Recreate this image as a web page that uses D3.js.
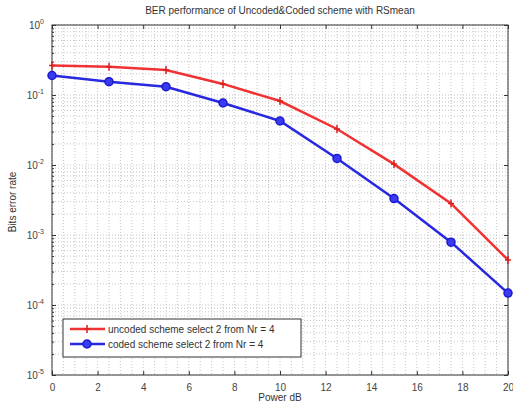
<!DOCTYPE html>
<html>
<head>
<meta charset="utf-8">
<script src="https://cdn.jsdelivr.net/npm/d3@7"></script>
<style>
  body { margin: 0; background: #fff; }
  text { font-family: "Liberation Sans", Arial, sans-serif; fill: #333; }
</style>
</head>
<body>
<script>
// values
const power = [0, 2.5, 5, 7.5, 10, 12.5, 15, 17.5, 20];
const uncoded = [0.264, 0.254, 0.228, 0.144, 0.082, 0.0327, 0.0103, 0.00282, 0.00044];
const coded = [0.19, 0.155, 0.1315, 0.0769, 0.0425, 0.0124, 0.00332, 0.00079, 0.000148];
const xTicks = [0, 2, 4, 6, 8, 10, 12, 14, 16, 18, 20];
const yTicks = [1, 1e-1, 1e-2, 1e-3, 1e-4, 1e-5];
const legendLabels = ['uncoded scheme select 2 from Nr = 4', 'coded scheme select 2 from Nr = 4'];

let width = 513;
let height = 403;
const pLeft = 52, pRight = 508, pTop = 25, pBottom = 375;

const svg = d3.select('body')
    .append('svg')
    .attr('width', width)
    .attr('height', height);

let x = d3.scaleLinear().domain([0, 20]).range([pLeft, pRight]);
let y = d3.scaleLog().domain([1e-5, 1]).range([pBottom, pTop]);

svg.append('rect')
    .attr('x', pLeft).attr('y', pTop)
    .attr('width', pRight - pLeft).attr('height', pBottom - pTop)
    .attr('fill', '#fff');

// grid, dotted like matlab (major + minor)
let g = svg.append('g');
let xMinor = d3.range(0, 20.01, 0.5);
g.selectAll('line.vx')
    .data(xMinor)
    .enter()
    .append('line')
    .attr('x1', d => x(d)).attr('x2', d => x(d))
    .attr('y1', pTop).attr('y2', pBottom)
    .attr('stroke', '#b8b8b8')
    .attr('stroke-width', 0.8)
    .attr('stroke-dasharray', '1,2');

let yMinor = [];
for (let e = -5; e < 0; e++) {
    for (let k = 1; k < 10; k++) yMinor.push(k * Math.pow(10, e));
}
yMinor.push(1);
g.selectAll('line.hy')
    .data(yMinor)
    .enter()
    .append('line')
    .attr('x1', pLeft).attr('x2', pRight)
    .attr('y1', d => y(d)).attr('y2', d => y(d))
    .attr('stroke', '#b8b8b8')
    .attr('stroke-width', 0.8)
    .attr('stroke-dasharray', '1,2');

// axes
svg.append('g')
    .attr('transform', `translate(0,${pBottom})`)
    .call(d3.axisBottom(x).tickValues(xTicks).tickSizeInner(-4).tickSizeOuter(0).tickPadding(9))
    .call(a => a.select('.domain').remove())
    .call(a => a.selectAll('line').attr('stroke', '#333'))
    .call(a => a.selectAll('text').attr('font-size', 10).style('fill', '#444'));

svg.append('g')
    .attr('transform', `translate(0,${pTop})`)
    .call(d3.axisTop(x).tickValues(xTicks).tickSizeInner(-4).tickSizeOuter(0).tickFormat(''))
    .call(a => a.select('.domain').remove())
    .call(a => a.selectAll('line').attr('stroke', '#333'));

svg.append('g')
    .attr('transform', `translate(${pLeft},0)`)
    .call(d3.axisLeft(y).tickValues(yMinor).tickSizeInner(-2).tickSizeOuter(0).tickFormat(''))
    .call(a => a.select('.domain').remove())
    .call(a => a.selectAll('line').attr('stroke', '#333'));

svg.append('g')
    .attr('transform', `translate(${pLeft},0)`)
    .call(d3.axisLeft(y).tickValues(yTicks).tickSizeInner(-4).tickSizeOuter(0).tickFormat(''))
    .call(a => a.select('.domain').remove())
    .call(a => a.selectAll('line').attr('stroke', '#333'));

svg.append('g')
    .attr('transform', `translate(${pRight},0)`)
    .call(d3.axisRight(y).tickValues(yTicks).tickSizeInner(-4).tickSizeOuter(0).tickFormat(''))
    .call(a => a.select('.domain').remove())
    .call(a => a.selectAll('line').attr('stroke', '#333'));

// y tick labels 10^n
let yl = svg.append('g').selectAll('text')
    .data(yTicks)
    .enter()
    .append('text')
    .attr('x', pLeft - 8)
    .attr('y', d => y(d) + 4)
    .attr('text-anchor', 'end')
    .attr('font-size', 10)
    .style('fill', '#444');
yl.append('tspan').text('10');
yl.append('tspan')
    .attr('dy', -5)
    .attr('font-size', 7)
    .text(d => Math.round(Math.log10(d)));

// box
svg.append('rect')
    .attr('x', pLeft).attr('y', pTop)
    .attr('width', pRight - pLeft).attr('height', pBottom - pTop)
    .attr('fill', 'none')
    .attr('stroke', '#333')
    .attr('stroke-width', 1);

// lines
let line = d3.line().x((d, i) => x(power[i])).y(d => y(d));

svg.append('path')
    .datum(uncoded)
    .attr('d', line)
    .attr('fill', 'none')
    .attr('stroke', '#f03232')
    .attr('stroke-width', 2.5);

svg.append('g').selectAll('path')
    .data(uncoded)
    .enter()
    .append('path')
    .attr('d', (d, i) => `M${x(power[i]) - 3},${y(d)}h6M${x(power[i])},${y(d) - 4}v8`)
    .attr('stroke', '#d82020')
    .attr('stroke-width', 1.5);

svg.append('path')
    .datum(coded)
    .attr('d', line)
    .attr('fill', 'none')
    .attr('stroke', '#2828e0')
    .attr('stroke-width', 2.5);

svg.append('g').selectAll('circle')
    .data(coded)
    .enter()
    .append('circle')
    .attr('cx', (d, i) => x(power[i]))
    .attr('cy', d => y(d))
    .attr('r', 4)
    .attr('fill', '#3a3af0')
    .attr('stroke', '#1a1ad0')
    .attr('stroke-width', 1.5);

// legend
let lg = svg.append('g').attr('transform', 'translate(63,319)');
lg.append('rect')
    .attr('width', 238).attr('height', 38)
    .attr('fill', '#fff')
    .attr('stroke', '#333')
    .attr('stroke-width', 1);

let colors = ['#f03232', '#2828e0'];
legendLabels.forEach((lab, i) => {
    let ry = 10 + i * 15;
    lg.append('line')
        .attr('x1', 7).attr('x2', 42)
        .attr('y1', ry).attr('y2', ry)
        .attr('stroke', colors[i])
        .attr('stroke-width', 2.5);
    if (i === 0) {
        lg.append('path')
            .attr('d', `M21,${ry}h6M24,${ry - 4}v8`)
            .attr('stroke', '#d82020')
            .attr('stroke-width', 1.5);
    } else {
        lg.append('circle')
            .attr('cx', 24).attr('cy', ry).attr('r', 4)
            .attr('fill', '#3a3af0')
            .attr('stroke', '#1a1ad0')
            .attr('stroke-width', 1.5);
    }
    lg.append('text')
        .attr('x', 45)
        .attr('y', ry + 3.5)
        .attr('font-size', 10)
        .text(lab);
});

// titles
svg.append('text')
    .attr('x', (pLeft + pRight) / 2)
    .attr('y', 14)
    .attr('text-anchor', 'middle')
    .attr('font-size', 10)
    .text('BER performance of Uncoded&Coded scheme with RSmean');

svg.append('text')
    .attr('x', (pLeft + pRight) / 2)
    .attr('y', 401)
    .attr('text-anchor', 'middle')
    .attr('font-size', 10)
    .text('Power dB');

svg.append('text')
    .attr('transform', `translate(16,${(pTop + pBottom) / 2 + 2}) rotate(-90)`)
    .attr('text-anchor', 'middle')
    .attr('font-size', 10)
    .text('Bits error rate');
</script>
</body>
</html>
